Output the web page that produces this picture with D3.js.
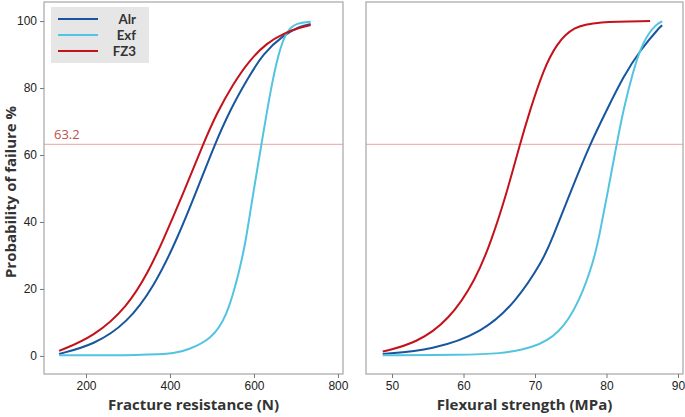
<!DOCTYPE html>
<html><head><meta charset="utf-8">
<script src="https://cdn.jsdelivr.net/npm/d3@7"></script>
<style>body{margin:0;background:#fff}svg{display:block;font-family:"Open Sans","Noto Sans",sans-serif}</style>
</head><body><svg id="c" width="685" height="417"></svg>
<script>
const seriesNames = ["Alr","Exf","FZ3"];
const colors = {Alr:"#17569e", Exf:"#52c4df", FZ3:"#c4121a"};
// Left panel: fracture resistance (N) vs probability of failure (%)
const fracN = {
  Alr:[136,219,298,362,416,464,507,543,583,622,670,710,735],
  Exf:[136,338,417,441,497,536,566,581,598,618,638,658,678,702,735],
  FZ3:[136,219,298,350,380,432,479,511,551,590,630,670,710,735]
};
const fracP = {
  Alr:[0.6,3.3,9.8,20.7,34.6,49.5,63.3,73.4,82.4,90.4,95.8,98.5,99.1],
  Exf:[0.2,0.2,0.8,1.8,4.8,11.7,25.7,34.6,48.6,63.3,78.4,90.4,97.3,99.5,99.8],
  FZ3:[1.5,5.8,14.5,25.5,33.5,48.6,63.3,72.4,81.4,88.4,93.4,96.3,98.1,98.8]
};
// Right panel: flexural strength (MPa)
const flexM = {
  Alr:[48.7,55.7,62.7,67.3,71.1,72.33,74.9,77.69,80.03,82.35,84.69,87.48,87.8],
  Exf:[48.7,60.0,65.0,69.7,73.4,76.2,78.3,79.0,80.0,81.43,82.35,83.75,85.15,87.02,87.8],
  FZ3:[48.7,53.4,58.0,61.7,63.94,66.04,67.9,69.3,71.16,73.03,75.36,78.63,86.1]
};
const flexP = {
  Alr:[0.6,1.8,7,16,28.5,34.6,48.6,63.3,73.4,83.4,91.3,98.3,98.7],
  Exf:[0.2,0.3,0.6,2.3,6.5,16,29,36,47,63.3,73.4,85.4,94.3,99.3,99.9],
  FZ3:[1.3,3.8,10.7,22.7,34.6,48.6,63.3,73.4,85.4,93.3,98.3,99.8,100]
};
const yTicks = [0,20,40,60,80,100];
const fracTicks = [200,400,600,800];
const flexTicks = [50,60,70,80,90];
const refLine = 63.2;

const svg = d3.select("#c");
const plotTop = 2, plotBottom = 374;
const y = d3.scaleLinear().domain([-5.4,105.7]).range([plotBottom, plotTop]);

function panel(x0, x1, domain, ticks, xs, ps, xlabel, withY, withLegend){
  const x = d3.scaleLinear().domain(domain).range([x0, x1]);
  const g = svg.append("g");
  g.append("line").attr("x1",x0).attr("x2",x1).attr("y1",y(refLine)).attr("y2",y(refLine))
    .attr("stroke","#e9a3a3").attr("stroke-width",1);
  const line = d3.line().x(d=>x(d[0])).y(d=>y(d[1])).curve(d3.curveBasis);
  seriesNames.forEach(s=>{
    g.append("path").datum(d3.zip(xs[s], ps[s])).attr("d", line)
      .attr("fill","none").attr("stroke",colors[s]).attr("stroke-width",2);
  });
  g.append("rect").attr("x",x0).attr("y",plotTop).attr("width",x1-x0).attr("height",plotBottom-plotTop)
    .attr("fill","none").attr("stroke","#a6a6a6").attr("stroke-width",1.2);
  const ax = g.append("g").attr("transform",`translate(0,${plotBottom})`)
    .call(d3.axisBottom(x).tickValues(ticks).tickSize(4).tickPadding(3).tickFormat(d3.format("d")));
  ax.select(".domain").remove();
  ax.selectAll("line").attr("stroke","#777");
  ax.selectAll("text").attr("font-size",12).attr("fill","#222");
  g.append("text").attr("x",(x0+x1)/2).attr("y",410).attr("text-anchor","middle")
    .attr("font-size",15).attr("font-weight","bold").attr("fill","#333").text(xlabel);
  if(withY){
    const ay = g.append("g").attr("transform",`translate(${x0},0)`)
      .call(d3.axisLeft(y).tickValues(yTicks).tickSize(4).tickPadding(3));
    ay.select(".domain").remove();
    ay.selectAll("line").attr("stroke","#777");
    ay.selectAll("text").attr("font-size",12).attr("fill","#222");
    g.append("text").attr("transform",`translate(16,${(plotTop+plotBottom)/2+4}) rotate(-90)`)
      .attr("text-anchor","middle").attr("font-size",15).attr("font-weight","bold").attr("fill","#333")
      .text("Probability of failure %");
    g.append("text").attr("x",x0+10).attr("y",y(refLine)-5).attr("font-size",13)
      .attr("fill","#c0504d").text(String(refLine));
  }
  if(withLegend){
    const lg = g.append("g");
    lg.append("rect").attr("x",51).attr("y",7).attr("width",98).attr("height",56).attr("fill","#e6e6e6");
    seriesNames.forEach((s,i)=>{
      const yy = 19 + i*16;
      lg.append("line").attr("x1",58).attr("x2",98).attr("y1",yy).attr("y2",yy)
        .attr("stroke",colors[s]).attr("stroke-width",2);
      lg.append("text").attr("x",136).attr("y",yy+5).attr("text-anchor","end")
        .attr("font-family","Lato, sans-serif")
        .attr("font-size",13.3).attr("font-weight","bold").attr("fill","#333").text(s);
    });
  }
}
panel(44, 343, [100, 812], fracTicks, fracN, fracP, "Fracture resistance (N)", true, true);
panel(366, 683, [46.36, 90.7], flexTicks, flexM, flexP, "Flexural strength (MPa)", false, false);
</script></body></html>
